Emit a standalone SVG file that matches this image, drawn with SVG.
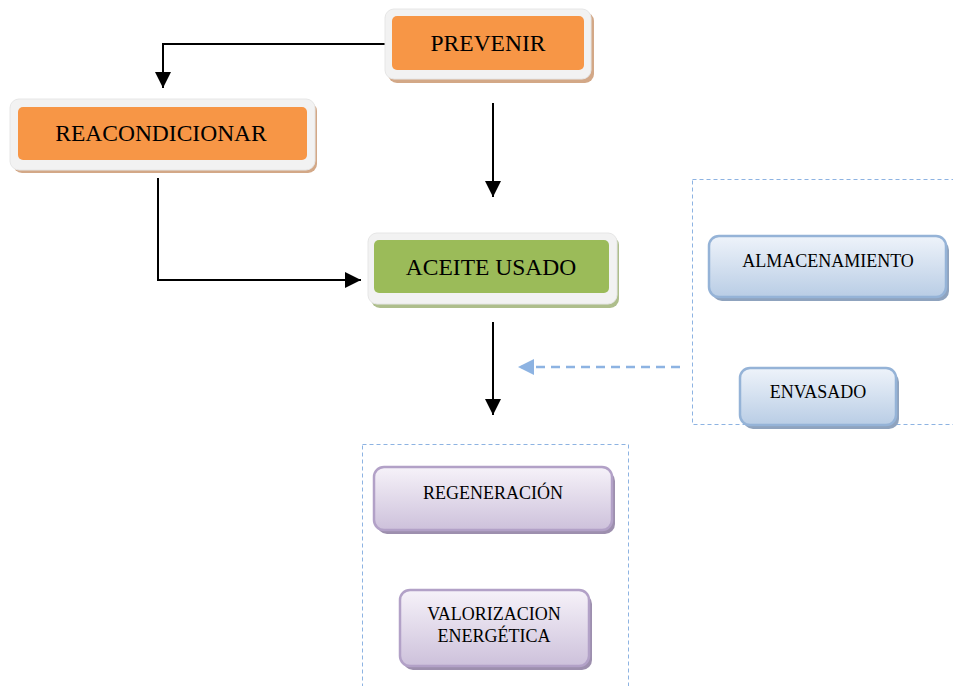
<svg xmlns="http://www.w3.org/2000/svg" width="953" height="686" viewBox="0 0 953 686">
  <defs>
    <linearGradient id="gradBlue" x1="0" y1="0" x2="0" y2="1">
      <stop offset="0" stop-color="#EEF3FA"/>
      <stop offset="1" stop-color="#B9CDE5"/>
    </linearGradient>
    <linearGradient id="gradPurple" x1="0" y1="0" x2="0" y2="1">
      <stop offset="0" stop-color="#F6F2F9"/>
      <stop offset="1" stop-color="#CDC1DB"/>
    </linearGradient>
    <marker id="arrowBlack" viewBox="0 0 10 10" refX="10" refY="5" markerWidth="16" markerHeight="16" markerUnits="userSpaceOnUse" orient="auto">
      <path d="M0,0 L10,5 L0,10 Z" fill="#000"/>
    </marker>
    <marker id="arrowBlue" viewBox="0 0 10 10" refX="10" refY="5" markerWidth="16" markerHeight="16" markerUnits="userSpaceOnUse" orient="auto">
      <path d="M0,0 L10,5 L0,10 Z" fill="#8DB3E2"/>
    </marker>
  </defs>
  <style>
    .frame { fill: #F2F2F2; stroke: #E6E6E6; stroke-width: 1; }
    .shadowTan { fill: #D3A887; }
    .shadowGreen { fill: #AEBE8C; }
    .orange { fill: #F79646; }
    .green { fill: #9BBB59; }
    .blueBox { fill: url(#gradBlue); stroke: #95B3D7; stroke-width: 2.5; }
    .blueShadow { fill: #8FA3BE; }
    .purpleBox { fill: url(#gradPurple); stroke: #B2A1C7; stroke-width: 2.5; }
    .purpleShadow { fill: #9D8FAE; }
    .label { font-family: "Liberation Serif", "Times New Roman", serif; fill: #000; text-anchor: middle; }
    .big { font-size: 23.5px; }
    .small { font-size: 18px; }
    .group { fill: none; stroke: #8DB3E2; stroke-width: 1; stroke-dasharray: 4,3; }
    .conn { fill: none; stroke: #000; stroke-width: 2; }
    .connDash { fill: none; stroke: #8DB3E2; stroke-width: 2.5; stroke-dasharray: 9,6; }
  </style>

  <!-- dashed grouping frames -->
  <g id="groups">
    <rect class="group" x="692.5" y="179.5" width="300" height="245"/>
    <rect class="group" x="362.5" y="444.5" width="266" height="300"/>
  </g>

  <!-- connectors -->
  <g id="connectors">
    <path class="conn" d="M387,44 H163 V88" marker-end="url(#arrowBlack)"/>
    <path class="conn" d="M158,178 V280 H361" marker-end="url(#arrowBlack)"/>
    <path class="conn" d="M493,103 V197" marker-end="url(#arrowBlack)"/>
    <path class="conn" d="M493,322 V415" marker-end="url(#arrowBlack)"/>
    <path class="connDash" d="M680,367 H518" marker-end="url(#arrowBlue)"/>
  </g>

  <!-- PREVENIR -->
  <g id="prevenir">
    <rect class="shadowTan" x="388" y="12" width="206" height="71" rx="9"/>
    <rect class="frame" x="385" y="9" width="206" height="70" rx="9"/>
    <rect class="orange" x="392" y="16" width="192" height="54" rx="5"/>
    <text class="label big" x="488" y="51">PREVENIR</text>
  </g>

  <!-- REACONDICIONAR -->
  <g id="reacondicionar">
    <rect class="shadowTan" x="13" y="102" width="304" height="71" rx="9"/>
    <rect class="frame" x="10" y="99" width="305" height="71" rx="9"/>
    <rect class="orange" x="18" y="107" width="289" height="53" rx="5"/>
    <text class="label big" x="161" y="141">REACONDICIONAR</text>
  </g>

  <!-- ACEITE USADO -->
  <g id="aceite-usado">
    <rect class="shadowGreen" x="371" y="236" width="248" height="72" rx="9"/>
    <rect class="frame" x="368" y="233" width="249" height="71" rx="9"/>
    <rect class="green" x="374" y="240" width="235" height="53" rx="5"/>
    <text class="label big" x="491" y="275">ACEITE USADO</text>
  </g>

  <!-- ALMACENAMIENTO -->
  <g id="almacenamiento">
    <rect class="blueShadow" x="712" y="240" width="237" height="61" rx="10"/>
    <rect class="blueBox" x="709" y="236" width="237" height="61" rx="10"/>
    <text class="label small" x="828" y="267">ALMACENAMIENTO</text>
  </g>

  <!-- ENVASADO -->
  <g id="envasado">
    <rect class="blueShadow" x="743" y="372" width="156" height="57" rx="10"/>
    <rect class="blueBox" x="740" y="368" width="156" height="57" rx="10"/>
    <text class="label small" x="818" y="398">ENVASADO</text>
  </g>

  <!-- REGENERACIÓN -->
  <g id="regeneracion">
    <rect class="purpleShadow" x="377" y="471" width="238" height="63" rx="10"/>
    <rect class="purpleBox" x="374" y="467" width="238" height="63" rx="10"/>
    <text class="label small" x="493" y="499">REGENERACIÓN</text>
  </g>

  <!-- VALORIZACION ENERGÉTICA -->
  <g id="valorizacion">
    <rect class="purpleShadow" x="403" y="594" width="189" height="76" rx="10"/>
    <rect class="purpleBox" x="400" y="590" width="189" height="76" rx="10"/>
    <text class="label small" x="494" y="620">VALORIZACION</text>
    <text class="label small" x="494" y="642">ENERGÉTICA</text>
  </g>
</svg>
